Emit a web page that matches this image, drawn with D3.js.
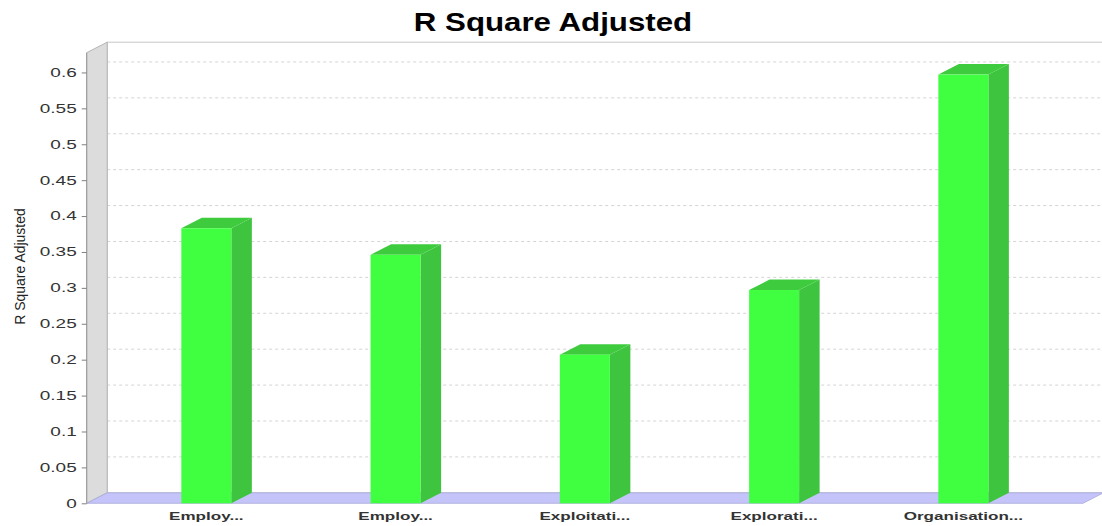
<!DOCTYPE html>
<html>
<head>
<meta charset="utf-8">
<script src="https://cdn.jsdelivr.net/npm/d3@7/dist/d3.min.js"></script>
<style>
  html, body { margin: 0; padding: 0; background: #ffffff; }
  svg { display: block; }
  text { font-family: "Liberation Sans", Arial, sans-serif; }
</style>
</head>
<body>
<svg id="chart" width="1102" height="526"></svg>
<script>
// Chart data
const categories = ["Employ...", "Employ...", "Exploitati...", "Explorati...", "Organisation..."];
const rSquareAdjusted = [0.383, 0.346, 0.207, 0.297, 0.597];
const yTickValues = [0, 0.05, 0.1, 0.15, 0.2, 0.25, 0.3, 0.35, 0.4, 0.45, 0.5, 0.55, 0.6];
const yTickLabels = ["0", "0.05", "0.1", "0.15", "0.2", "0.25", "0.3", "0.35", "0.4", "0.45", "0.5", "0.55", "0.6"];
const chartTitle = "R Square Adjusted";
const yAxisTitle = "R Square Adjusted";

const svg = d3.select("#chart");

// Front plane of the plot and 3D depth offset
const plot = { left: 86.7, right: 1083, top: 52.7, bottom: 503.3 };
const depth = { dx: 20.5, dy: 10.5 };

const y = d3.scaleLinear().domain([0, 0.6275]).range([plot.bottom, plot.top]);
const x = d3.scaleBand()
  .domain(d3.range(categories.length))
  .range([plot.left, plot.right])
  .paddingInner(0.7357)
  .paddingOuter(0.5);

// Stretch text horizontally along its own direction
function stretch(sel, k) {
  sel.each(function () {
    const w = this.getComputedTextLength();
    d3.select(this).attr("textLength", w * k).attr("lengthAdjust", "spacingAndGlyphs");
  });
}

// Back plane
const back = { left: plot.left + depth.dx, right: plot.right + depth.dx + 30, top: plot.top - depth.dy, bottom: plot.bottom - depth.dy };
svg.append("rect")
  .attr("x", back.left).attr("y", back.top)
  .attr("width", back.right - back.left).attr("height", back.bottom - back.top)
  .attr("fill", "#ffffff").attr("stroke", "#c8c8c8").attr("stroke-width", 1);

// Gridlines on the back plane
svg.append("g").selectAll("line")
  .data(yTickValues.filter(v => v > 0))
  .join("line")
  .attr("x1", back.left).attr("x2", back.right)
  .attr("y1", d => y(d) - depth.dy).attr("y2", d => y(d) - depth.dy)
  .attr("stroke", "#d4d4d4").attr("stroke-width", 1)
  .attr("stroke-dasharray", "3,3");

// Left wall
svg.append("polygon")
  .attr("points", [
    [plot.left, plot.top], [back.left, back.top],
    [back.left, back.bottom], [plot.left, plot.bottom]
  ].map(p => p.join(",")).join(" "))
  .attr("fill", "#dcdcdc").attr("stroke", "#b4b4b4").attr("stroke-width", 1);

// Floor
svg.append("polygon")
  .attr("points", [
    [plot.left, plot.bottom], [back.left, back.bottom],
    [plot.right + depth.dx, back.bottom], [plot.right, plot.bottom]
  ].map(p => p.join(",")).join(" "))
  .attr("fill", "#c4c4fb").attr("stroke", "#a8a8d8").attr("stroke-width", 0.8);

// Bars: front face, side face and top face
const bars = svg.append("g").selectAll("g")
  .data(rSquareAdjusted)
  .join("g");

bars.append("polygon")
  .attr("points", (d, i) => {
    const x1 = x(i) + x.bandwidth(), yt = y(d);
    return [[x1, yt], [x1 + depth.dx, yt - depth.dy], [x1 + depth.dx, y(0) - depth.dy], [x1, y(0)]]
      .map(p => p.join(",")).join(" ");
  })
  .attr("fill", "#3fc43f");

bars.append("polygon")
  .attr("points", (d, i) => {
    const x0 = x(i), x1 = x(i) + x.bandwidth(), yt = y(d);
    return [[x0, yt], [x0 + depth.dx, yt - depth.dy], [x1 + depth.dx, yt - depth.dy], [x1, yt]]
      .map(p => p.join(",")).join(" ");
  })
  .attr("fill", "#3ecc3e");

bars.append("rect")
  .attr("x", (d, i) => x(i))
  .attr("y", d => y(d))
  .attr("width", x.bandwidth())
  .attr("height", d => y(0) - y(d))
  .attr("fill", "#40ff40");

// Y axis
const yAxis = svg.append("g")
  .attr("transform", `translate(${plot.left},0)`)
  .call(d3.axisLeft(y)
    .tickValues(yTickValues)
    .tickSize(5)
    .tickPadding(5)
    .tickFormat((d, i) => yTickLabels[i]));
yAxis.select(".domain").attr("stroke", "#9a9a9a").attr("d", `M0,${plot.top}V${plot.bottom}`);
yAxis.selectAll(".tick line").attr("stroke", "#808080");
yAxis.selectAll(".tick text")
  .attr("font-size", 12)
  .attr("fill", "#333333")
  .attr("font-family", "Liberation Sans, Arial, sans-serif")
  .call(stretch, 1.58);

// X axis labels
const xAxis = svg.append("g")
  .attr("transform", `translate(0,${plot.bottom})`)
  .call(d3.axisBottom(x).tickSize(0).tickPadding(17).tickFormat(i => categories[i]));
xAxis.select(".domain").remove();
xAxis.selectAll(".tick text")
  .attr("font-size", 11)
  .attr("font-weight", "bold")
  .attr("fill", "#333333")
  .attr("font-family", "Liberation Sans, Arial, sans-serif")
  .attr("dy", 0)
  .call(stretch, 1.55);

// Y axis title
svg.append("text")
  .attr("transform", "translate(24.5,266.5) rotate(-90)")
  .attr("text-anchor", "middle")
  .attr("font-size", 15)
  .attr("fill", "#222222")
  .text(yAxisTitle)
  .call(stretch, 0.93);

// Chart title
svg.append("text")
  .attr("x", 553).attr("y", 30.7)
  .attr("text-anchor", "middle")
  .attr("font-size", 25)
  .attr("font-weight", "bold")
  .attr("fill", "#000000")
  .text(chartTitle)
  .call(stretch, 1.25);
</script>
</body>
</html>
